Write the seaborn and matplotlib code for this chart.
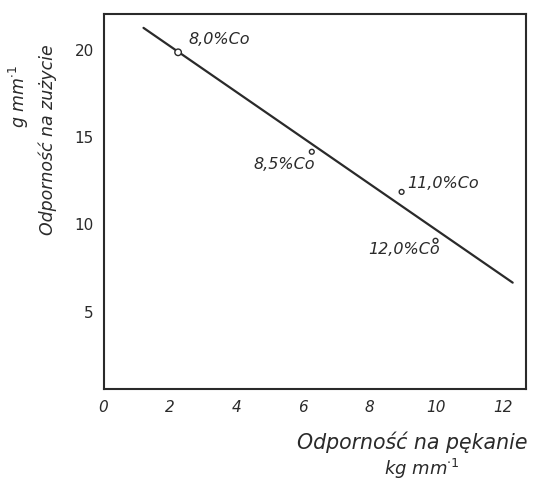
import matplotlib
matplotlib.use("Agg")
import matplotlib.pyplot as plt
import seaborn as sns
import pandas as pd

# data
fit_x = [1.2, 12.3]
fit_y = [21.2, 6.6]
pt_x = [2.24, 6.26, 8.96, 9.98]
pt_y = [19.8, 14.1, 11.8, 9.0]
pt_labels = ["8,0%Co", "8,5%Co", "11,0%Co", "12,0%Co"]
x_ticks = [0, 2, 4, 6, 8, 10, 12]
y_ticks = [5, 10, 15, 20]

sns.set_theme(style="white")
plt.rcParams['font.family'] = ['DejaVu Sans']

ink = "#2a2a2a"
fig = plt.figure(figsize=(5.34, 4.81), dpi=100)
ax = fig.add_axes([0.194, 0.189, 0.791, 0.78])

sns.lineplot(x=fit_x, y=fit_y, ax=ax, color=ink, linewidth=1.6)
pts = pd.DataFrame({"x": pt_x, "y": pt_y, "lab": pt_labels})
sns.scatterplot(data=pts, x="x", y="y", ax=ax, s=[22, 12, 12, 12],
                facecolor="white", edgecolor=ink, linewidth=1.0, zorder=5)

offsets = [(10, 14, "left"), (3, -12, "right"), (6, 9, "left"), (4, -8, "right")]
for (x, y, lab), (dx, dy, ha) in zip(zip(pt_x, pt_y, pt_labels), offsets):
    ax.annotate(lab, xy=(x, y), xytext=(dx, dy), textcoords="offset pixels",
                ha=ha, va="center", fontsize=11.5, style="italic", color=ink)

ax.set_xlim(0, 12.7)
ax.set_ylim(0.5, 22)
ax.set_xticks(x_ticks)
ax.set_yticks(y_ticks)
ax.set_xticklabels([str(t) for t in x_ticks], style="italic", fontsize=11, color=ink)
ax.set_yticklabels([str(t) for t in y_ticks], fontsize=11, color=ink)
ax.tick_params(axis="both", direction="out", length=2, width=1, colors=ink, pad=5)
for sp in ax.spines.values():
    sp.set_color(ink)
    sp.set_linewidth(1.5)
ax.set_xlabel("")
ax.set_ylabel("")

fig.text(0.772, 0.081, "Odporność na pękanie", ha="center", va="center",
         fontsize=14.8, style="italic", color=ink)
fig.text(0.79, 0.025, "kg mm$^{\\cdot1}$", ha="center", va="center",
         fontsize=13, style="italic", color=ink)
fig.text(0.09, 0.71, "Odporność na zużycie", ha="center", va="center",
         rotation=90, fontsize=12.5, style="italic", color=ink)
fig.text(0.035, 0.80, "g mm$^{\\cdot1}$", ha="center", va="center",
         rotation=90, fontsize=12.5, style="italic", color=ink)

fig.savefig("out.png", dpi=100, facecolor="white")
